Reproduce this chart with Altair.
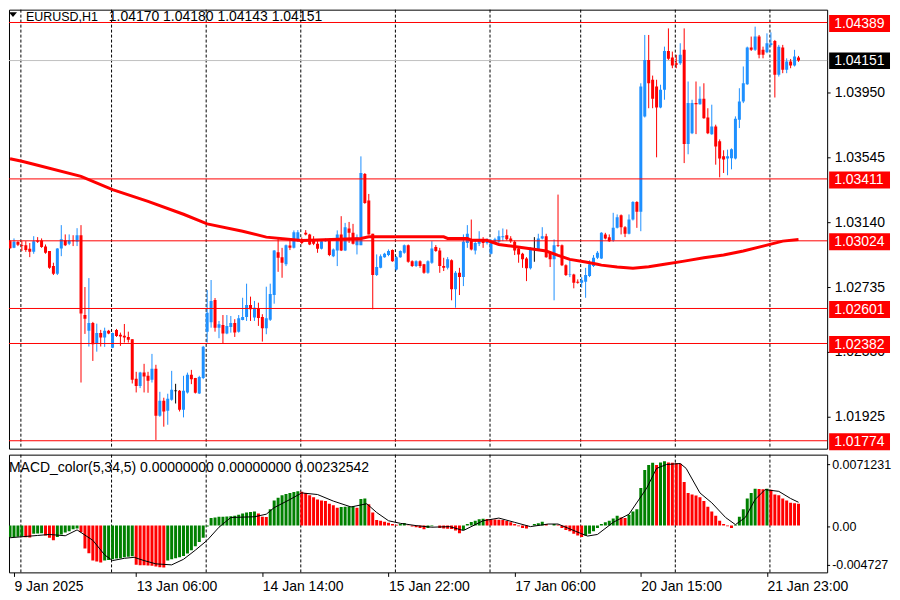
import json
import altair as alt
import pandas as pd

FONT = "Liberation Sans"
FS = 14

# ---------------- price data (EURUSD H1) ----------------
opens = [1.03022, 1.02980, 1.03016, 1.02997, 1.02997, 1.02974, 1.02955, 1.03026, 1.03026, 1.02989,
         1.02960, 1.02866, 1.02818, 1.02976, 1.03028, 1.03005, 1.03028, 1.03018, 1.03059, 1.02560,
         1.02461, 1.02510, 1.02380, 1.02448, 1.02419, 1.02461, 1.02356, 1.02467, 1.02436, 1.02431,
         1.02423, 1.02409, 1.02161, 1.02117, 1.02200, 1.02180, 1.02155, 1.02224, 1.01930, 1.02024,
         1.01962, 1.02030, 1.02086, 1.02086, 1.01968, 1.02076, 1.02186, 1.02167, 1.02069, 1.02167,
         1.02456, 1.02515, 1.02654, 1.02481, 1.02498, 1.02444, 1.02485, 1.02510, 1.02456, 1.02529,
         1.02548, 1.02623, 1.02544, 1.02604, 1.02548, 1.02477, 1.02531, 1.02685, 1.02953, 1.02922,
         1.02877, 1.02995, 1.02980, 1.03026, 1.03026, 1.03074, 1.03064, 1.03026, 1.03005, 1.02974,
         1.03022, 1.03033, 1.02928, 1.02964, 1.03064, 1.02964, 1.03101, 1.03074, 1.02997, 1.02997,
         1.03442, 1.03276, 1.03068, 1.02810, 1.02855, 1.02922, 1.02935, 1.02966, 1.02845, 1.02922,
         1.02949, 1.02997, 1.02897, 1.02866, 1.02897, 1.02877, 1.02824, 1.02887, 1.02985, 1.02964,
         1.02866, 1.02855, 1.02903, 1.02721, 1.02824, 1.02797, 1.03011, 1.03033, 1.02964, 1.03005,
         1.03033, 1.03011, 1.02943, 1.03018, 1.03018, 1.03047, 1.03059, 1.03039, 1.03018, 1.02976,
         1.02943, 1.02914, 1.02852, 1.02970, 1.02964, 1.03039, 1.03053, 1.02949, 1.02908, 1.02997,
         1.02997, 1.02872, 1.02810, 1.02814, 1.02768, 1.02762, 1.02768, 1.02804, 1.02866, 1.02918,
         1.02914, 1.03064, 1.03047, 1.03026, 1.03105, 1.03184, 1.03109, 1.03068, 1.03157, 1.03267,
         1.03205, 1.03802, 1.04155, 1.04031, 1.03989, 1.03858, 1.03968, 1.04211, 1.04170, 1.04134,
         1.04134, 1.04218, 1.03629, 1.03697, 1.03885, 1.03878, 1.03912, 1.03795, 1.03691, 1.03739,
         1.03646, 1.03552, 1.03538, 1.03540, 1.03538, 1.03781, 1.03895, 1.04003, 1.04232, 1.04218,
         1.04301, 1.04218, 1.04203, 1.04249, 1.04274, 1.04062, 1.04232, 1.04093, 1.04145, 1.04120,
         1.04170]
highs = [1.03028, 1.03039, 1.03022, 1.03022, 1.03022, 1.03010, 1.03053, 1.03047, 1.03039, 1.03001,
         1.02960, 1.02887, 1.02978, 1.03122, 1.03064, 1.03064, 1.03059, 1.03103, 1.03122, 1.02735,
         1.02791, 1.02517, 1.02506, 1.02467, 1.02481, 1.02467, 1.02450, 1.02473, 1.02450, 1.02504,
         1.02456, 1.02409, 1.02205, 1.02205, 1.02255, 1.02205, 1.02317, 1.02249, 1.02080, 1.02043,
         1.02068, 1.02211, 1.02130, 1.02091, 1.02180, 1.02200, 1.02217, 1.02167, 1.02180, 1.02367,
         1.02716, 1.02779, 1.02666, 1.02523, 1.02560, 1.02560, 1.02554, 1.02534, 1.02560, 1.02668,
         1.02756, 1.02675, 1.02648, 1.02637, 1.02565, 1.02737, 1.02756, 1.02966, 1.03043, 1.02980,
         1.03001, 1.03033, 1.03089, 1.03091, 1.03045, 1.03091, 1.03068, 1.03053, 1.03022, 1.03026,
         1.03039, 1.03039, 1.02976, 1.03089, 1.03178, 1.03136, 1.03142, 1.03130, 1.03064, 1.03552,
         1.03448, 1.03317, 1.03068, 1.02939, 1.02939, 1.02949, 1.02970, 1.02970, 1.02928, 1.02964,
         1.03001, 1.03001, 1.02902, 1.02902, 1.02902, 1.02880, 1.02902, 1.03022, 1.02997, 1.02980,
         1.02918, 1.02922, 1.02908, 1.02835, 1.02855, 1.03064, 1.03122, 1.03157, 1.03033, 1.03084,
         1.03047, 1.03039, 1.03033, 1.03043, 1.03089, 1.03101, 1.03095, 1.03053, 1.03026, 1.02991,
         1.02949, 1.02922, 1.02985, 1.03047, 1.03068, 1.03109, 1.03068, 1.02960, 1.03033, 1.03313,
         1.03001, 1.02877, 1.02902, 1.02818, 1.02783, 1.02797, 1.02855, 1.02902, 1.02935, 1.02960,
         1.03078, 1.03074, 1.03064, 1.03199, 1.03189, 1.03189, 1.03116, 1.03189, 1.03272, 1.03272,
         1.04009, 1.04311, 1.04311, 1.04057, 1.04031, 1.04000, 1.04238, 1.04352, 1.04207, 1.04187,
         1.04259, 1.04352, 1.04020, 1.03906, 1.04020, 1.03989, 1.04009, 1.03853, 1.03875, 1.03750,
         1.03658, 1.03590, 1.03594, 1.03602, 1.03802, 1.03978, 1.04114, 1.04238, 1.04301, 1.04363,
         1.04311, 1.04238, 1.04321, 1.04327, 1.04280, 1.04249, 1.04249, 1.04165, 1.04161, 1.04218,
         1.04180]
lows = [1.02975, 1.02978, 1.02991, 1.02960, 1.02955, 1.02922, 1.02943, 1.03011, 1.02980, 1.02943,
        1.02849, 1.02810, 1.02810, 1.02928, 1.02991, 1.02997, 1.02991, 1.02991, 1.02138, 1.02442,
        1.02363, 1.02273, 1.02331, 1.02363, 1.02361, 1.02440, 1.02353, 1.02423, 1.02367, 1.02388,
        1.02388, 1.02132, 1.02076, 1.02103, 1.02076, 1.02074, 1.02138, 1.01779, 1.01924, 1.01862,
        1.01874, 1.02024, 1.02007, 1.01957, 1.01920, 1.02069, 1.02128, 1.02069, 1.02066, 1.02159,
        1.02388, 1.02481, 1.02456, 1.02415, 1.02381, 1.02440, 1.02450, 1.02423, 1.02450, 1.02527,
        1.02523, 1.02523, 1.02523, 1.02492, 1.02394, 1.02440, 1.02523, 1.02631, 1.02830, 1.02793,
        1.02866, 1.02966, 1.02976, 1.03018, 1.03003, 1.03058, 1.02997, 1.02997, 1.02949, 1.02970,
        1.03018, 1.02928, 1.02922, 1.02866, 1.02960, 1.02960, 1.03011, 1.03001, 1.02939, 1.02997,
        1.03255, 1.03064, 1.02596, 1.02804, 1.02852, 1.02918, 1.02928, 1.02893, 1.02839, 1.02918,
        1.02943, 1.02887, 1.02860, 1.02860, 1.02855, 1.02818, 1.02818, 1.02880, 1.02955, 1.02824,
        1.02835, 1.02845, 1.02652, 1.02606, 1.02685, 1.02741, 1.02980, 1.02964, 1.02939, 1.02991,
        1.02980, 1.03001, 1.02939, 1.03011, 1.03011, 1.03022, 1.03026, 1.03011, 1.02935, 1.02887,
        1.02855, 1.02772, 1.02845, 1.02893, 1.02960, 1.03033, 1.02918, 1.02860, 1.02652, 1.02985,
        1.02866, 1.02804, 1.02797, 1.02727, 1.02756, 1.02731, 1.02668, 1.02797, 1.02860, 1.02910,
        1.02910, 1.03033, 1.03018, 1.03018, 1.03101, 1.03064, 1.03047, 1.03064, 1.03151, 1.03105,
        1.03084, 1.03795, 1.03853, 1.03853, 1.03546, 1.03853, 1.03906, 1.04155, 1.04103, 1.04103,
        1.04124, 1.03510, 1.03565, 1.03691, 1.03691, 1.03875, 1.03787, 1.03691, 1.03687, 1.03500,
        1.03421, 1.03448, 1.03434, 1.03471, 1.03533, 1.03729, 1.03885, 1.03999, 1.04211, 1.04211,
        1.04165, 1.04165, 1.04197, 1.04238, 1.03920, 1.04051, 1.04072, 1.04072, 1.04103, 1.04114,
        1.04143]
closes = [1.02978, 1.03018, 1.02999, 1.02991, 1.02966, 1.02955, 1.03022, 1.03018, 1.02985, 1.02949,
          1.02855, 1.02818, 1.02976, 1.03033, 1.02997, 1.03028, 1.03022, 1.03059, 1.02569, 1.02537,
          1.02510, 1.02378, 1.02448, 1.02419, 1.02461, 1.02444, 1.02448, 1.02429, 1.02425, 1.02419,
          1.02406, 1.02155, 1.02117, 1.02200, 1.02175, 1.02149, 1.02224, 1.01930, 1.02024, 1.01957,
          1.02036, 1.02093, 1.02086, 1.01968, 1.02086, 1.02186, 1.02159, 1.02074, 1.02173, 1.02361,
          1.02575, 1.02648, 1.02481, 1.02502, 1.02444, 1.02492, 1.02510, 1.02450, 1.02540, 1.02548,
          1.02623, 1.02596, 1.02606, 1.02542, 1.02477, 1.02540, 1.02691, 1.02964, 1.02918, 1.02887,
          1.02997, 1.02980, 1.03078, 1.03078, 1.03011, 1.03064, 1.03001, 1.03005, 1.02974, 1.03022,
          1.03033, 1.02935, 1.02970, 1.03064, 1.02964, 1.03109, 1.03074, 1.03005, 1.03047, 1.03448,
          1.03261, 1.03064, 1.02810, 1.02860, 1.02928, 1.02943, 1.02960, 1.02897, 1.02922, 1.02960,
          1.02997, 1.02893, 1.02866, 1.02897, 1.02866, 1.02824, 1.02897, 1.02976, 1.02960, 1.02866,
          1.02855, 1.02908, 1.02721, 1.02824, 1.02797, 1.03018, 1.03068, 1.02970, 1.03011, 1.03033,
          1.03011, 1.03022, 1.03018, 1.03033, 1.03053, 1.03053, 1.03033, 1.03022, 1.02964, 1.02939,
          1.02908, 1.02852, 1.02980, 1.02970, 1.03039, 1.03053, 1.02922, 1.02908, 1.02997, 1.02991,
          1.02872, 1.02810, 1.02814, 1.02762, 1.02762, 1.02777, 1.02810, 1.02877, 1.02918, 1.02949,
          1.03074, 1.03039, 1.03022, 1.03105, 1.03172, 1.03109, 1.03068, 1.03157, 1.03267, 1.03205,
          1.03989, 1.04155, 1.04009, 1.03912, 1.03858, 1.03968, 1.04211, 1.04162, 1.04120, 1.04124,
          1.04187, 1.03629, 1.03885, 1.03885, 1.03878, 1.03912, 1.03791, 1.03697, 1.03739, 1.03614,
          1.03538, 1.03532, 1.03552, 1.03596, 1.03787, 1.03895, 1.04009, 1.04232, 1.04218, 1.04301,
          1.04187, 1.04187, 1.04259, 1.04259, 1.04062, 1.04238, 1.04093, 1.04145, 1.04120, 1.04176,
          1.04151]

# moving average (read at sample bars)
ma_bars = [0, 3, 7, 18, 26, 35, 44, 50, 59, 65, 74, 89, 91, 110, 111, 116, 117, 121, 122, 124,
           127, 132, 136, 139, 142, 146, 149, 150, 154, 158, 162, 166, 171, 176, 181, 186, 191, 196, 200]
ma_vals = [1.03537, 1.03521, 1.03496, 1.03427, 1.03344, 1.03271, 1.03190, 1.03130, 1.03084, 1.03047,
           1.03026, 1.03039, 1.03049, 1.03049, 1.03039, 1.03039, 1.03028, 1.03028, 1.03018, 1.03001,
           1.02991, 1.02974, 1.02960, 1.02933, 1.02908, 1.02891, 1.02877, 1.02872, 1.02860, 1.02853,
           1.02862, 1.02877, 1.02897, 1.02918, 1.02935, 1.02960, 1.02991, 1.03022, 1.03032]

levels = [1.04389, 1.03411, 1.03024, 1.02601, 1.02382, 1.01774]
bid_price = 1.04151
price_ticks = [1.03950, 1.03545, 1.03140, 1.02735, 1.02330, 1.01925]
day_lines = [2.75, 25.75, 49.75, 73.75, 97.75, 121.75, 144.75, 168.75, 192.75]
time_tick_bars = [1, 32, 64, 96, 128, 160, 192]
time_tick_labels = ["9 Jan 2025", "13 Jan 06:00", "14 Jan 14:00", "15 Jan 22:00",
                    "17 Jan 06:00", "20 Jan 15:00", "21 Jan 23:00"]

# ---------------- MACD data (values x 1e-4) ----------------
hist_e4 = [-11.7, -11.7, -11.4, -11.1, -12.0, -12.2, -8.4, -8.2, -8.0, -10.1,
           -12.4, -15.0, -11.7, -9.1, -7.1, -5.8, -3.8, -3.2, -6.8, -23.2,
           -28.1, -35.4, -36.4, -37.4, -35.4, -34.7, -34.1, -33.4, -33.1, -32.1,
           -31.5, -31.1, -39.7, -40.0, -40.2, -40.3, -40.7, -41.3, -42.0, -42.3,
           -35.4, -34.1, -33.1, -32.1, -30.8, -28.2, -24.9, -20.9, -16.6, -12.4,
           -1.2, 7.4, 8.0, 8.7, 8.8, 9.0, 9.3, 9.7, 10.7, 12.0,
           13.0, 13.6, 13.9, 12.0, 8.7, 8.4, 16.3, 25.1, 27.8, 30.4,
           31.7, 32.7, 33.7, 34.3, 33.9, 32.7, 30.4, 28.4, 26.1, 25.1,
           24.5, 21.8, 20.2, 17.9, 18.6, 18.9, 19.0, 19.2, 17.9, 26.5,
           27.1, 21.2, 13.0, 5.4, 4.7, 3.8, 2.8, 1.4, 0.8, 1.4,
           2.4, 0.1, -1.2, -1.8, -2.5, -3.8, -2.5, -0.9, -0.2, -2.5,
           -3.2, -3.3, -3.5, -5.1, -7.8, -4.5, 1.4, 3.4, 4.7, 6.1,
           6.7, 6.4, 6.2, 6.0, 5.7, 5.4, 4.4, 3.1, 1.4, -0.9,
           -2.5, -3.2, -0.2, 1.4, 2.1, 3.8, 1.4, -0.2, 1.4, 0.8,
           -2.5, -4.5, -5.8, -8.4, -10.1, -11.7, -10.1, -8.4, -5.8, -2.5,
           1.4, 3.1, 4.7, 7.0, 9.7, 8.0, 7.4, 10.7, 13.9, 16.3,
           37.6, 55.7, 60.7, 63.0, 60.7, 63.3, 64.6, 63.3, 63.0, 62.6,
           62.0, 43.6, 32.7, 31.1, 30.1, 28.4, 24.5, 18.9, 13.9, 9.7,
           4.7, 1.4, -0.9, -2.5, 0.8, 8.7, 16.3, 27.1, 32.7, 37.0,
           36.6, 36.3, 37.0, 36.0, 31.1, 30.4, 27.1, 25.1, 22.8, 22.2,
           21.8]
hist_colors = ("ggggrrgggrrrggggggrrrrrrggggggggrrrrrrrr"
               "ggggggggggggggggggggggg" "rrr" "gggggggg" "rrrrrrrrrr"
               "gggg" "r" "gg" "rrrrrrrr" "gg" "rrrrr" "ggg" "rrrrrr" "gggggg"
               "rrrrrrrrrrr" "gggg" "rr" "g" "rrrrrrr" "ggggggggg" "rr" "ggggggg" "r" "gg"
               "rrrrrrrrrrrrrrrrr" "gggggg" "rr" "g" "rrrrrrrr")
sig_bars = [0, 7, 10, 14, 17, 21, 24, 26, 29, 31.5, 34, 37, 41, 44, 47, 50, 53, 56, 62, 65,
            67, 71, 74, 78, 82, 86.5, 90.5, 93, 96, 99, 103, 107, 111.5, 115, 120, 124, 128, 132,
            136.5, 139, 145, 146.5, 149, 153, 157, 161.5, 164, 166.5, 170, 171.5, 175, 178, 181.5,
            184, 186.5, 189, 191.5, 195, 198, 200]
sig_e4 = [-12.4, -10.1, -9.1, -10.4, -4.5, -15.0, -29.7, -35.4, -33.1, -32.1, -35.4, -38.7, -39.7,
          -34.1, -24.9, -15.0, -1.8, 8.0, 8.7, 11.3, 17.9, 26.1, 32.7, 31.1, 24.5, 18.6, 21.8, 13.0,
          4.7, 2.1, -0.2, -1.8, -1.2, -5.1, 4.7, 7.4, 3.1, -1.2, 1.4, 1.4, -8.4, -10.7, -9.1, 3.1,
          11.3, 37.6, 57.4, 61.3, 62.3, 57.4, 32.7, 22.8, 8.0, 0.8, 8.0, 26.1, 36.0, 34.3, 27.1, 23.3]
macd_max = 0.0071231
macd_min = -0.0047272

n = len(opens)
assert all(len(a) == n for a in (highs, lows, closes, hist_e4))
assert len(hist_colors) == n, len(hist_colors)
assert len(sig_bars) == len(sig_e4) and len(ma_bars) == len(ma_vals)

CANDLE_HEX = {"up": "#1e90ff", "down": "#ff0000", "doji": "#000000"}
HIST_HEX = {"g": "#008000", "r": "#ff0000"}

bars = list(range(n))
candles = pd.DataFrame({"bar": bars, "open": opens, "high": highs, "low": lows, "close": closes})
candles["dir"] = ["up" if c > o else ("down" if c < o else "doji") for o, c in zip(opens, closes)]
candles["hex"] = candles["dir"].map(CANDLE_HEX)

# ---------------- geometry ----------------
W, H_MAIN, H_MACD = 820, 440, 118
PX = 0.00006238                      # price per pixel of the reference chart
y_top = 1.044692
x_scale = alt.Scale(domain=[1, 206], nice=False, zero=False)
y_scale = alt.Scale(domain=[y_top - H_MAIN * PX, y_top], nice=False, zero=False)
m_scale = alt.Scale(domain=[macd_min, macd_max], nice=False, zero=False)

y_axis = alt.Axis(orient="right", values=price_ticks, format=".5f", grid=False, domain=False,
                  ticks=True, tickSize=3, tickColor="black", labelFont=FONT, labelFontSize=FS,
                  labelColor="black", labelPadding=4, title=None, labelOverlap=False,
                  labelBound=False, labelFlush=False)
x_axis = alt.Axis(values=time_tick_bars,
                  labelExpr=f"{json.dumps(time_tick_labels)}[indexof({json.dumps(time_tick_bars)}, datum.value)]",
                  grid=False, domain=False, ticks=True, tickSize=4, tickColor="black",
                  labelAlign="left", labelBaseline="top", labelPadding=3, labelFont=FONT,
                  labelFontSize=FS, labelColor="black", title=None, labelOverlap=False,
                  labelBound=False, labelFlush=False)


def Y(field):
    return alt.Y(field, scale=y_scale, axis=y_axis)


def M(field):
    return alt.Y(field, scale=m_scale, axis=None)


XM = alt.X("bar:Q", scale=x_scale, axis=None)      # main panel
XB = alt.X("bar:Q", scale=x_scale, axis=x_axis)    # MACD panel (carries the time axis)


def vlines(xenc):
    return alt.Chart(pd.DataFrame({"bar": day_lines})).mark_rule(
        color="black", strokeDash=[3, 2], strokeWidth=1).encode(x=xenc)


def label_text(txt, x, y, size=FS, color="black"):
    return alt.Chart(pd.DataFrame({"t": [txt]})).mark_text(
        align="left", baseline="middle", font=FONT, fontSize=size, color=color
    ).encode(x=alt.value(x), y=alt.value(y), text="t:N")


bid_rule = alt.Chart(pd.DataFrame({"price": [bid_price]})).mark_rule(
    color="#c0c0c0", strokeWidth=1).encode(y=Y("price:Q"))

wick = alt.Chart(candles).mark_rule(strokeWidth=1, clip=True).encode(
    x=XM, y=Y("low:Q"), y2="high:Q", color=alt.Color("hex:N", scale=None))
body = alt.Chart(candles).mark_bar(size=3, clip=True).encode(
    x=XM, y=Y("open:Q"), y2="close:Q", color=alt.Color("hex:N", scale=None))
doji = alt.Chart(candles).transform_filter("datum.dir == 'doji'").mark_tick(
    orient="horizontal", size=3, thickness=1, color="black", clip=True).encode(
    x=XM, y=Y("open:Q"))

ma = alt.Chart(pd.DataFrame({"bar": ma_bars, "ma": ma_vals})).mark_line(
    color="#ff0000", strokeWidth=3, clip=True).encode(x=XM, y=Y("ma:Q"))

lv = pd.DataFrame({"price": levels, "label": [f"{p:.5f}" for p in levels]})
level_rules = alt.Chart(lv).mark_rule(color="#ff0000", strokeWidth=1).encode(y=Y("price:Q"))
level_boxes = alt.Chart(lv).mark_rect(color="#ff0000", opacity=1, yOffset=-7.5, y2Offset=9.5).encode(
    x=alt.value(W + 2), x2=alt.value(W + 63), y=Y("price:Q"), y2="price:Q")
level_text = alt.Chart(lv).mark_text(
    align="left", baseline="middle", dy=1.5, font=FONT, fontSize=FS, color="white").encode(
    x=alt.value(W + 7), y=Y("price:Q"), text="label:N")

bd = pd.DataFrame({"price": [bid_price], "label": [f"{bid_price:.5f}"]})
bid_box = alt.Chart(bd).mark_rect(color="black", opacity=1, yOffset=-8, y2Offset=8.5).encode(
    x=alt.value(W + 2), x2=alt.value(W + 63), y=Y("price:Q"), y2="price:Q")
bid_text = alt.Chart(bd).mark_text(
    align="left", baseline="middle", dy=0.5, font=FONT, fontSize=FS, color="white").encode(
    x=alt.value(W + 7), y=Y("price:Q"), text="label:N")

tri = alt.Chart(pd.DataFrame({"t": [0]})).mark_point(
    shape="M-1,-0.6L1,-0.6L0,0.6Z", size=64, filled=True, color="black", opacity=1).encode(
    x=alt.value(4), y=alt.value(5))
title1 = label_text("EURUSD,H1", 17, 7, size=12.5)
title2 = label_text("1.04170 1.04180 1.04143 1.04151", 100, 7)

main = alt.layer(vlines(XM), bid_rule, wick, body, doji, ma, level_rules, level_boxes, level_text,
                 bid_box, bid_text, tri, title1, title2).properties(width=W, height=H_MAIN)

# ---------------- MACD panel ----------------
macd_df = pd.DataFrame({"bar": bars, "hist": [v * 1e-4 for v in hist_e4], "zero": 0.0,
                        "hex": [HIST_HEX[c] for c in hist_colors]})
sig_df = pd.DataFrame({"bar": sig_bars, "sig": [v * 1e-4 for v in sig_e4]})

hist = alt.Chart(macd_df).mark_bar(size=3, clip=True).encode(
    x=XB, y=M("hist:Q"), y2="zero:Q", color=alt.Color("hex:N", scale=None))
sig = alt.Chart(sig_df).mark_line(color="black", strokeWidth=1, clip=True).encode(
    x=XB, y=M("sig:Q"))

macd_layers = [vlines(XB), hist, sig,
               label_text("MACD_color(5,34,5) 0.00000000 0.00000000 0.00232542", 0, 13)]
for val, txt, dy in [(macd_max, "0.0071231", 10), (0.0, "0.00", 1.5), (macd_min, "-0.004727", -7)]:
    d = pd.DataFrame({"v": [val], "t": [txt]})
    macd_layers.append(alt.Chart(d).mark_text(
        align="left", baseline="middle", dy=dy, font=FONT, fontSize=12.5, color="black").encode(
        x=alt.value(W + 5), y=M("v:Q"), text="t:N"))
    macd_layers.append(alt.Chart(d).mark_rule(color="black", strokeWidth=1, yOffset=dy).encode(
        x=alt.value(W), x2=alt.value(W + 3), y=M("v:Q")))

macd = alt.layer(*macd_layers).properties(width=W, height=H_MACD)

chart = alt.vconcat(main, macd, spacing=2).properties(
    padding=0, background="white"
).configure_view(stroke="black", strokeWidth=1)

chart.save("out.html", embed_options={"renderer": "svg", "actions": False})
